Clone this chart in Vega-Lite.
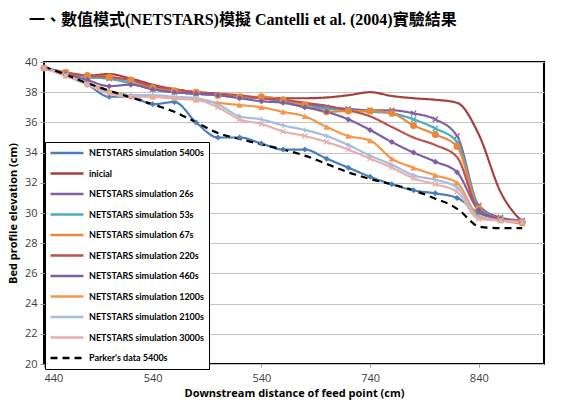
{
"$schema":"https://vega.github.io/schema/vega-lite/v6.json",
"autosize":"none",
"width":500,"height":302,
"padding":{"left":44,"top":62,"right":24,"bottom":47},
"background":"white",
"title":{"text":"一、數值模式(NETSTARS)模擬 Cantelli et al. (2004)實驗結果","anchor":"start","frame":"group","orient":"top","offset":15,"baseline":"alphabetic","dx":-15,"font":"Liberation Serif, Noto Sans CJK TC","fontSize":16,"fontWeight":"bold","color":"#000"},
"data":{"values":[
{"s":"NETSTARS simulation 5400s","x":440,"y":39.6},{"s":"NETSTARS simulation 5400s","x":460,"y":39.1},{"s":"NETSTARS simulation 5400s","x":480,"y":38.5},{"s":"NETSTARS simulation 5400s","x":500,"y":37.7},{"s":"NETSTARS simulation 5400s","x":520,"y":37.7},{"s":"NETSTARS simulation 5400s","x":540,"y":37.2},{"s":"NETSTARS simulation 5400s","x":560,"y":37.35},{"s":"NETSTARS simulation 5400s","x":580,"y":36.0},{"s":"NETSTARS simulation 5400s","x":600,"y":35.0},{"s":"NETSTARS simulation 5400s","x":620,"y":35.0},{"s":"NETSTARS simulation 5400s","x":640,"y":34.6},{"s":"NETSTARS simulation 5400s","x":660,"y":34.2},{"s":"NETSTARS simulation 5400s","x":680,"y":34.2},{"s":"NETSTARS simulation 5400s","x":700,"y":33.6},{"s":"NETSTARS simulation 5400s","x":720,"y":33.0},{"s":"NETSTARS simulation 5400s","x":740,"y":32.4},{"s":"NETSTARS simulation 5400s","x":760,"y":31.9},{"s":"NETSTARS simulation 5400s","x":780,"y":31.5},{"s":"NETSTARS simulation 5400s","x":800,"y":31.3},{"s":"NETSTARS simulation 5400s","x":820,"y":31.0},{"s":"NETSTARS simulation 5400s","x":840,"y":30.0},{"s":"NETSTARS simulation 5400s","x":860,"y":29.6},{"s":"NETSTARS simulation 5400s","x":880,"y":29.4},
{"s":"inicial","x":440,"y":39.6},{"s":"inicial","x":460,"y":39.3},{"s":"inicial","x":480,"y":39.1},{"s":"inicial","x":500,"y":39.2},{"s":"inicial","x":520,"y":38.9},{"s":"inicial","x":540,"y":38.5},{"s":"inicial","x":560,"y":38.2},{"s":"inicial","x":580,"y":38.0},{"s":"inicial","x":600,"y":37.9},{"s":"inicial","x":620,"y":37.7},{"s":"inicial","x":640,"y":37.65},{"s":"inicial","x":660,"y":37.6},{"s":"inicial","x":680,"y":37.6},{"s":"inicial","x":700,"y":37.65},{"s":"inicial","x":720,"y":37.8},{"s":"inicial","x":740,"y":38.0},{"s":"inicial","x":760,"y":37.75},{"s":"inicial","x":780,"y":37.6},{"s":"inicial","x":800,"y":37.5},{"s":"inicial","x":820,"y":37.3},{"s":"inicial","x":840,"y":35.2},{"s":"inicial","x":860,"y":31.4},{"s":"inicial","x":880,"y":29.4},
{"s":"NETSTARS simulation 26s","x":440,"y":39.6},{"s":"NETSTARS simulation 26s","x":460,"y":39.3},{"s":"NETSTARS simulation 26s","x":480,"y":39.0},{"s":"NETSTARS simulation 26s","x":500,"y":38.9},{"s":"NETSTARS simulation 26s","x":520,"y":38.6},{"s":"NETSTARS simulation 26s","x":540,"y":38.2},{"s":"NETSTARS simulation 26s","x":560,"y":38.0},{"s":"NETSTARS simulation 26s","x":580,"y":37.9},{"s":"NETSTARS simulation 26s","x":600,"y":37.8},{"s":"NETSTARS simulation 26s","x":620,"y":37.7},{"s":"NETSTARS simulation 26s","x":640,"y":37.6},{"s":"NETSTARS simulation 26s","x":660,"y":37.4},{"s":"NETSTARS simulation 26s","x":680,"y":37.2},{"s":"NETSTARS simulation 26s","x":700,"y":37.0},{"s":"NETSTARS simulation 26s","x":720,"y":36.9},{"s":"NETSTARS simulation 26s","x":740,"y":36.8},{"s":"NETSTARS simulation 26s","x":760,"y":36.8},{"s":"NETSTARS simulation 26s","x":780,"y":36.6},{"s":"NETSTARS simulation 26s","x":800,"y":36.2},{"s":"NETSTARS simulation 26s","x":820,"y":35.1},{"s":"NETSTARS simulation 26s","x":840,"y":30.5},{"s":"NETSTARS simulation 26s","x":860,"y":29.7},{"s":"NETSTARS simulation 26s","x":880,"y":29.5},
{"s":"NETSTARS simulation 53s","x":440,"y":39.6},{"s":"NETSTARS simulation 53s","x":460,"y":39.3},{"s":"NETSTARS simulation 53s","x":480,"y":39.0},{"s":"NETSTARS simulation 53s","x":500,"y":38.9},{"s":"NETSTARS simulation 53s","x":520,"y":38.6},{"s":"NETSTARS simulation 53s","x":540,"y":38.2},{"s":"NETSTARS simulation 53s","x":560,"y":38.0},{"s":"NETSTARS simulation 53s","x":580,"y":37.9},{"s":"NETSTARS simulation 53s","x":600,"y":37.8},{"s":"NETSTARS simulation 53s","x":620,"y":37.7},{"s":"NETSTARS simulation 53s","x":640,"y":37.6},{"s":"NETSTARS simulation 53s","x":660,"y":37.4},{"s":"NETSTARS simulation 53s","x":680,"y":37.1},{"s":"NETSTARS simulation 53s","x":700,"y":36.9},{"s":"NETSTARS simulation 53s","x":720,"y":36.8},{"s":"NETSTARS simulation 53s","x":740,"y":36.7},{"s":"NETSTARS simulation 53s","x":760,"y":36.6},{"s":"NETSTARS simulation 53s","x":780,"y":36.2},{"s":"NETSTARS simulation 53s","x":800,"y":35.6},{"s":"NETSTARS simulation 53s","x":820,"y":34.7},{"s":"NETSTARS simulation 53s","x":840,"y":30.4},{"s":"NETSTARS simulation 53s","x":860,"y":29.6},{"s":"NETSTARS simulation 53s","x":880,"y":29.4},
{"s":"NETSTARS simulation 67s","x":440,"y":39.6},{"s":"NETSTARS simulation 67s","x":460,"y":39.3},{"s":"NETSTARS simulation 67s","x":480,"y":39.1},{"s":"NETSTARS simulation 67s","x":500,"y":39.0},{"s":"NETSTARS simulation 67s","x":520,"y":38.8},{"s":"NETSTARS simulation 67s","x":540,"y":38.3},{"s":"NETSTARS simulation 67s","x":560,"y":38.1},{"s":"NETSTARS simulation 67s","x":580,"y":38.0},{"s":"NETSTARS simulation 67s","x":600,"y":37.8},{"s":"NETSTARS simulation 67s","x":620,"y":37.7},{"s":"NETSTARS simulation 67s","x":640,"y":37.7},{"s":"NETSTARS simulation 67s","x":660,"y":37.5},{"s":"NETSTARS simulation 67s","x":680,"y":37.15},{"s":"NETSTARS simulation 67s","x":700,"y":36.7},{"s":"NETSTARS simulation 67s","x":720,"y":36.75},{"s":"NETSTARS simulation 67s","x":740,"y":36.75},{"s":"NETSTARS simulation 67s","x":760,"y":36.6},{"s":"NETSTARS simulation 67s","x":780,"y":35.8},{"s":"NETSTARS simulation 67s","x":800,"y":35.2},{"s":"NETSTARS simulation 67s","x":820,"y":34.4},{"s":"NETSTARS simulation 67s","x":840,"y":30.3},{"s":"NETSTARS simulation 67s","x":860,"y":29.6},{"s":"NETSTARS simulation 67s","x":880,"y":29.4},
{"s":"NETSTARS simulation 220s","x":440,"y":39.6},{"s":"NETSTARS simulation 220s","x":460,"y":39.3},{"s":"NETSTARS simulation 220s","x":480,"y":39.1},{"s":"NETSTARS simulation 220s","x":500,"y":39.0},{"s":"NETSTARS simulation 220s","x":520,"y":38.8},{"s":"NETSTARS simulation 220s","x":540,"y":38.4},{"s":"NETSTARS simulation 220s","x":560,"y":38.2},{"s":"NETSTARS simulation 220s","x":580,"y":38.0},{"s":"NETSTARS simulation 220s","x":600,"y":37.9},{"s":"NETSTARS simulation 220s","x":620,"y":37.8},{"s":"NETSTARS simulation 220s","x":640,"y":37.6},{"s":"NETSTARS simulation 220s","x":660,"y":37.5},{"s":"NETSTARS simulation 220s","x":680,"y":37.3},{"s":"NETSTARS simulation 220s","x":700,"y":37.1},{"s":"NETSTARS simulation 220s","x":720,"y":36.8},{"s":"NETSTARS simulation 220s","x":740,"y":36.4},{"s":"NETSTARS simulation 220s","x":760,"y":35.7},{"s":"NETSTARS simulation 220s","x":780,"y":35.0},{"s":"NETSTARS simulation 220s","x":800,"y":34.5},{"s":"NETSTARS simulation 220s","x":820,"y":33.7},{"s":"NETSTARS simulation 220s","x":840,"y":30.2},{"s":"NETSTARS simulation 220s","x":860,"y":29.6},{"s":"NETSTARS simulation 220s","x":880,"y":29.4},
{"s":"NETSTARS simulation 460s","x":440,"y":39.6},{"s":"NETSTARS simulation 460s","x":460,"y":39.2},{"s":"NETSTARS simulation 460s","x":480,"y":38.8},{"s":"NETSTARS simulation 460s","x":500,"y":38.4},{"s":"NETSTARS simulation 460s","x":520,"y":38.5},{"s":"NETSTARS simulation 460s","x":540,"y":38.2},{"s":"NETSTARS simulation 460s","x":560,"y":38.0},{"s":"NETSTARS simulation 460s","x":580,"y":37.9},{"s":"NETSTARS simulation 460s","x":600,"y":37.8},{"s":"NETSTARS simulation 460s","x":620,"y":37.6},{"s":"NETSTARS simulation 460s","x":640,"y":37.4},{"s":"NETSTARS simulation 460s","x":660,"y":37.3},{"s":"NETSTARS simulation 460s","x":680,"y":37.0},{"s":"NETSTARS simulation 460s","x":700,"y":36.7},{"s":"NETSTARS simulation 460s","x":720,"y":36.2},{"s":"NETSTARS simulation 460s","x":740,"y":35.5},{"s":"NETSTARS simulation 460s","x":760,"y":34.7},{"s":"NETSTARS simulation 460s","x":780,"y":34.0},{"s":"NETSTARS simulation 460s","x":800,"y":33.4},{"s":"NETSTARS simulation 460s","x":820,"y":32.7},{"s":"NETSTARS simulation 460s","x":840,"y":30.2},{"s":"NETSTARS simulation 460s","x":860,"y":29.6},{"s":"NETSTARS simulation 460s","x":880,"y":29.4},
{"s":"NETSTARS simulation 1200s","x":440,"y":39.6},{"s":"NETSTARS simulation 1200s","x":460,"y":39.1},{"s":"NETSTARS simulation 1200s","x":480,"y":38.6},{"s":"NETSTARS simulation 1200s","x":500,"y":38.1},{"s":"NETSTARS simulation 1200s","x":520,"y":37.8},{"s":"NETSTARS simulation 1200s","x":540,"y":37.7},{"s":"NETSTARS simulation 1200s","x":560,"y":37.6},{"s":"NETSTARS simulation 1200s","x":580,"y":37.5},{"s":"NETSTARS simulation 1200s","x":600,"y":37.3},{"s":"NETSTARS simulation 1200s","x":620,"y":37.15},{"s":"NETSTARS simulation 1200s","x":640,"y":37.0},{"s":"NETSTARS simulation 1200s","x":660,"y":36.7},{"s":"NETSTARS simulation 1200s","x":680,"y":36.4},{"s":"NETSTARS simulation 1200s","x":700,"y":35.7},{"s":"NETSTARS simulation 1200s","x":720,"y":35.1},{"s":"NETSTARS simulation 1200s","x":740,"y":34.8},{"s":"NETSTARS simulation 1200s","x":760,"y":33.6},{"s":"NETSTARS simulation 1200s","x":780,"y":33.0},{"s":"NETSTARS simulation 1200s","x":800,"y":32.5},{"s":"NETSTARS simulation 1200s","x":820,"y":32.0},{"s":"NETSTARS simulation 1200s","x":840,"y":29.8},{"s":"NETSTARS simulation 1200s","x":860,"y":29.5},{"s":"NETSTARS simulation 1200s","x":880,"y":29.3},
{"s":"NETSTARS simulation 2100s","x":440,"y":39.6},{"s":"NETSTARS simulation 2100s","x":460,"y":39.1},{"s":"NETSTARS simulation 2100s","x":480,"y":38.5},{"s":"NETSTARS simulation 2100s","x":500,"y":38.0},{"s":"NETSTARS simulation 2100s","x":520,"y":37.8},{"s":"NETSTARS simulation 2100s","x":540,"y":37.8},{"s":"NETSTARS simulation 2100s","x":560,"y":37.7},{"s":"NETSTARS simulation 2100s","x":580,"y":37.6},{"s":"NETSTARS simulation 2100s","x":600,"y":37.2},{"s":"NETSTARS simulation 2100s","x":620,"y":36.4},{"s":"NETSTARS simulation 2100s","x":640,"y":36.2},{"s":"NETSTARS simulation 2100s","x":660,"y":35.8},{"s":"NETSTARS simulation 2100s","x":680,"y":35.5},{"s":"NETSTARS simulation 2100s","x":700,"y":35.1},{"s":"NETSTARS simulation 2100s","x":720,"y":34.5},{"s":"NETSTARS simulation 2100s","x":740,"y":33.8},{"s":"NETSTARS simulation 2100s","x":760,"y":33.2},{"s":"NETSTARS simulation 2100s","x":780,"y":32.5},{"s":"NETSTARS simulation 2100s","x":800,"y":32.2},{"s":"NETSTARS simulation 2100s","x":820,"y":31.7},{"s":"NETSTARS simulation 2100s","x":840,"y":29.7},{"s":"NETSTARS simulation 2100s","x":860,"y":29.5},{"s":"NETSTARS simulation 2100s","x":880,"y":29.4},
{"s":"NETSTARS simulation 3000s","x":440,"y":39.6},{"s":"NETSTARS simulation 3000s","x":460,"y":39.1},{"s":"NETSTARS simulation 3000s","x":480,"y":38.5},{"s":"NETSTARS simulation 3000s","x":500,"y":37.9},{"s":"NETSTARS simulation 3000s","x":520,"y":37.7},{"s":"NETSTARS simulation 3000s","x":540,"y":37.7},{"s":"NETSTARS simulation 3000s","x":560,"y":37.6},{"s":"NETSTARS simulation 3000s","x":580,"y":37.5},{"s":"NETSTARS simulation 3000s","x":600,"y":37.0},{"s":"NETSTARS simulation 3000s","x":620,"y":36.2},{"s":"NETSTARS simulation 3000s","x":640,"y":35.9},{"s":"NETSTARS simulation 3000s","x":660,"y":35.4},{"s":"NETSTARS simulation 3000s","x":680,"y":35.1},{"s":"NETSTARS simulation 3000s","x":700,"y":34.7},{"s":"NETSTARS simulation 3000s","x":720,"y":34.2},{"s":"NETSTARS simulation 3000s","x":740,"y":33.6},{"s":"NETSTARS simulation 3000s","x":760,"y":33.0},{"s":"NETSTARS simulation 3000s","x":780,"y":32.3},{"s":"NETSTARS simulation 3000s","x":800,"y":31.9},{"s":"NETSTARS simulation 3000s","x":820,"y":31.4},{"s":"NETSTARS simulation 3000s","x":840,"y":29.6},{"s":"NETSTARS simulation 3000s","x":860,"y":29.5},{"s":"NETSTARS simulation 3000s","x":880,"y":29.4},
{"s":"Parker's data 5400s","x":440,"y":39.7},{"s":"Parker's data 5400s","x":460,"y":39.15},{"s":"Parker's data 5400s","x":480,"y":38.6},{"s":"Parker's data 5400s","x":500,"y":38.1},{"s":"Parker's data 5400s","x":520,"y":37.65},{"s":"Parker's data 5400s","x":540,"y":37.2},{"s":"Parker's data 5400s","x":560,"y":36.7},{"s":"Parker's data 5400s","x":580,"y":36.0},{"s":"Parker's data 5400s","x":600,"y":35.3},{"s":"Parker's data 5400s","x":620,"y":34.9},{"s":"Parker's data 5400s","x":640,"y":34.55},{"s":"Parker's data 5400s","x":660,"y":34.2},{"s":"Parker's data 5400s","x":680,"y":33.8},{"s":"Parker's data 5400s","x":700,"y":33.25},{"s":"Parker's data 5400s","x":720,"y":32.7},{"s":"Parker's data 5400s","x":740,"y":32.25},{"s":"Parker's data 5400s","x":760,"y":31.9},{"s":"Parker's data 5400s","x":780,"y":31.5},{"s":"Parker's data 5400s","x":800,"y":30.95},{"s":"Parker's data 5400s","x":815,"y":30.5},{"s":"Parker's data 5400s","x":825,"y":30.0},{"s":"Parker's data 5400s","x":832,"y":29.5},{"s":"Parker's data 5400s","x":840,"y":29.1},{"s":"Parker's data 5400s","x":860,"y":29.0},{"s":"Parker's data 5400s","x":880,"y":29.0}
]},
"encoding":{
 "x":{"field":"x","type":"quantitative","scale":{"domain":[440,900],"nice":false,"zero":false},
   "axis":{"values":[440,540,640,740,840],"labelExpr":"datum.value == 640 ? '540' : datum.label","grid":false,"domain":false,"tickSize":3,"tickColor":"#999","labelPadding":5,"title":"Downstream distance of feed point (cm)","titlePadding":4}},
 "y":{"field":"y","type":"quantitative","scale":{"domain":[20,40],"nice":false,"zero":false},
   "axis":{"values":[20,22,24,26,28,30,32,34,36,38,40],"grid":true,"gridColor":"#c4c4c4","gridWidth":1,"domain":false,"tickSize":4,"tickColor":"#999","labelPadding":3,"title":"Bed profile elevation (cm)","titlePadding":6}}
},
"layer":[
 {"mark":{"type":"line","interpolate":"monotone","strokeWidth":2.2},
  "encoding":{
   "color":{"field":"s","type":"nominal",
    "scale":{"domain":["NETSTARS simulation 5400s","inicial","NETSTARS simulation 26s","NETSTARS simulation 53s","NETSTARS simulation 67s","NETSTARS simulation 220s","NETSTARS simulation 460s","NETSTARS simulation 1200s","NETSTARS simulation 2100s","NETSTARS simulation 3000s","Parker's data 5400s"],
     "range":["#4A7EBB","#A5403D","#8064A2","#4BACC6","#E8893A","#C0504D","#7E5FA3","#F79646","#A3BDE0","#E6B0AE","#000000"]},
    "legend":{"orient":"none","legendX":1,"legendY":80,"title":null,"symbolType":"stroke","symbolSize":1089,"symbolStrokeWidth":2.5,"clipHeight":14,"rowPadding":6.5,"labelFont":"Lato","labelFontSize":9,"labelFontWeight":"bold","labelColor":"#000","labelOffset":4,"labelLimit":0,"padding":4,"strokeColor":"#000","fillColor":"#fff"}},
   "strokeDash":{"field":"s","type":"nominal",
    "scale":{"domain":["NETSTARS simulation 5400s","inicial","NETSTARS simulation 26s","NETSTARS simulation 53s","NETSTARS simulation 67s","NETSTARS simulation 220s","NETSTARS simulation 460s","NETSTARS simulation 1200s","NETSTARS simulation 2100s","NETSTARS simulation 3000s","Parker's data 5400s"],
    "range":[[1,0],[1,0],[1,0],[1,0],[1,0],[1,0],[1,0],[1,0],[1,0],[1,0],[7,5]]}}}},
 {"transform":[{"filter":{"field":"s","equal":"NETSTARS simulation 5400s"}}],
  "mark":{"type":"point","filled":true,"opacity":1,"shape":"diamond","size":36,"color":"#4A7EBB"}},
 {"transform":[{"filter":{"field":"s","equal":"NETSTARS simulation 26s"}}],
  "mark":{"type":"point","filled":false,"opacity":1,"shape":"M-1,-1L1,1M-1,1L1,-1","size":26,"strokeWidth":1.3,"color":"#8064A2"}},
 {"transform":[{"filter":{"field":"s","equal":"NETSTARS simulation 53s"}}],
  "mark":{"type":"point","filled":false,"opacity":1,"shape":"M-1,-1L1,1M-1,1L1,-1","size":26,"strokeWidth":1.3,"color":"#4BACC6"}},
 {"transform":[{"filter":{"field":"s","equal":"NETSTARS simulation 67s"}}],
  "mark":{"type":"point","filled":true,"opacity":1,"shape":"circle","size":50,"color":"#E8893A"}},
 {"transform":[{"filter":{"field":"s","equal":"NETSTARS simulation 460s"}}],
  "mark":{"type":"point","filled":true,"opacity":1,"shape":"diamond","size":36,"color":"#7E5FA3"}},
 {"transform":[{"filter":{"field":"s","equal":"NETSTARS simulation 1200s"}}],
  "mark":{"type":"point","filled":true,"opacity":1,"shape":"triangle-up","size":40,"color":"#F79646"}},
 {"transform":[{"filter":{"field":"s","equal":"NETSTARS simulation 2100s"}}],
  "mark":{"type":"point","filled":false,"opacity":1,"shape":"M-1,0L1,0M0,-1L0,1","size":26,"strokeWidth":1.3,"color":"#A3BDE0"}},
 {"transform":[{"filter":{"field":"s","equal":"NETSTARS simulation 3000s"}}],
  "mark":{"type":"point","filled":false,"opacity":1,"shape":"M-1,-1L1,1M-1,1L1,-1","size":26,"strokeWidth":1.3,"color":"#E6B0AE"}}
],
"config":{
 "view":{"stroke":"#000","strokeWidth":2},
 "axis":{"labelFont":"Open Sans","labelFontSize":11,"labelColor":"#404040","titleFont":"Open Sans","titleFontSize":11,"titleFontWeight":"bold","titleColor":"#000"}
}
}
